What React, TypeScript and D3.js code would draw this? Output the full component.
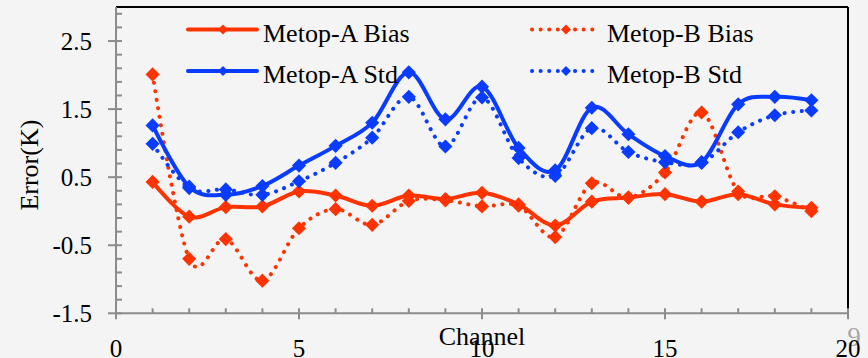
import React from "react";
import * as d3 from "d3";

const channels = [1, 2, 3, 4, 5, 6, 7, 8, 9, 10, 11, 12, 13, 14, 15, 16, 17, 18, 19];
const metopABias = [0.43, -0.08, 0.06, 0.07, 0.29, 0.23, 0.08, 0.23, 0.18, 0.27, 0.1, -0.21, 0.14, 0.2, 0.25, 0.14, 0.25, 0.1, 0.05];
const metopBBias = [2.01, -0.7, -0.41, -1.02, -0.25, 0.03, -0.2, 0.15, 0.16, 0.07, 0.08, -0.38, 0.41, 0.2, 0.57, 1.45, 0.29, 0.22, 0.0];
const metopAStd = [1.26, 0.36, 0.24, 0.37, 0.67, 0.96, 1.3, 2.04, 1.35, 1.83, 0.93, 0.6, 1.52, 1.13, 0.81, 0.72, 1.57, 1.68, 1.63];
const metopBStd = [0.99, 0.34, 0.32, 0.24, 0.44, 0.71, 1.08, 1.68, 0.95, 1.67, 0.78, 0.52, 1.22, 0.87, 0.72, 0.71, 1.16, 1.41, 1.48];

const yMajorTicks = [-1.5, -0.5, 0.5, 1.5, 2.5];
const xMajorTicks = [0, 5, 10, 15, 20];

const RED = "#ff3300";
const BLUE = "#0a3cff";
const FONT = "'Liberation Serif', 'Times New Roman', serif";

const W = 868;
const H = 358;

export default function App() {
  const x = d3.scaleLinear().domain([0, 20]).range([116, 848]);
  const y = d3.scaleLinear().domain([-1.5, 3]).range([313.3, 7]);

  const line = d3
    .line<[number, number]>()
    .x((d) => x(d[0]))
    .y((d) => y(d[1]))
    .curve(d3.curveCardinal.tension(0));

  const series = [
    { name: "Metop-A Bias", values: metopABias, color: RED, dotted: false, col: 0, row: 0 },
    { name: "Metop-B Bias", values: metopBBias, color: RED, dotted: true, col: 1, row: 0 },
    { name: "Metop-A Std", values: metopAStd, color: BLUE, dotted: false, col: 0, row: 1 },
    { name: "Metop-B Std", values: metopBStd, color: BLUE, dotted: true, col: 1, row: 1 },
  ];

  const diamond = d3.symbol(d3.symbolSquare, 100)() || "";
  const smallDiamond = d3.symbol(d3.symbolSquare, 50)() || "";

  const yMinor = d3.range(0, 23).map((k) => -1.5 + 0.2 * k).filter((v, i) => i % 5 !== 0 && v < 3);
  const xMinor = d3.range(1, 20).filter((v) => v % 5 !== 0);

  const axisColor = "#8c8c8c";
  const x0 = x(0);
  const yB = y(-1.5);

  const legendCols = [
    { lx1: 188, lx2: 257, mx: 223, tx: 263 },
    { lx1: 532, lx2: 599, mx: 566, tx: 607 },
  ];
  const legendRows = [{ ly: 29.5, ty: 41.5 }, { ly: 71, ty: 83 }];

  return (
    <svg
      width={W}
      height={H}
      style={{ position: "absolute", left: 0, top: 0, background: "#f4f4f4" }}
      fontFamily={FONT}
    >
      <rect x={0} y={0} width={W} height={H} fill="#f4f4f4" />

      {/* frame top/right */}
      <line x1={x0} x2={x(20)} y1={y(3)} y2={y(3)} stroke="#000" strokeWidth={2} />
      <line x1={x(20)} x2={x(20)} y1={y(3)} y2={yB} stroke="#000" strokeWidth={2} />

      {/* y axis */}
      <line x1={x0} x2={x0} y1={y(3)} y2={yB} stroke={axisColor} strokeWidth={2} />
      {yMinor.map((v, i) => (
        <line key={"ym" + i} x1={x0} x2={x0 + 6} y1={y(v)} y2={y(v)} stroke={axisColor} strokeWidth={2} />
      ))}
      {yMajorTicks.map((v) => (
        <g key={"yt" + v}>
          <line x1={x0 - 8} x2={x0 + 6} y1={y(v)} y2={y(v)} stroke={axisColor} strokeWidth={2} />
          <text x={92} y={y(v)} dy="0.34em" textAnchor="end" fontSize={25} fill="#000">
            {d3.format(".1f")(v).replace("−", "-")}
          </text>
        </g>
      ))}

      {/* x axis */}
      <line x1={x0} x2={x(20)} y1={yB} y2={yB} stroke={axisColor} strokeWidth={2} />
      {xMinor.map((v) => (
        <line key={"xm" + v} x1={x(v)} x2={x(v)} y1={yB - 5} y2={yB} stroke={axisColor} strokeWidth={2} />
      ))}
      {xMajorTicks.map((v) => (
        <g key={"xt" + v}>
          <line x1={x(v)} x2={x(v)} y1={yB - 5} y2={yB + 6} stroke={axisColor} strokeWidth={2} />
        </g>
      ))}
      <text x={854} y={346} textAnchor="middle" fontSize={27} fill="#a8a8a8">9</text>
      {xMajorTicks.map((v) => (
        <text key={"xl" + v} x={x(v)} y={357} textAnchor="middle" fontSize={25} fill="#000">
          {v}
        </text>
      ))}
      <text x={(x(0) + x(20)) / 2} y={345} textAnchor="middle" fontSize={26} fill="#000">
        Channel
      </text>
      <text
        transform={`translate(38, ${(y(3) + yB) / 2 + 5}) rotate(-90)`}
        textAnchor="middle"
        fontSize={26}
        fill="#000"
      >
        Error(K)
      </text>

      {/* series */}
      {series.map((s) => {
        const pts = channels.map((c, i) => [c, s.values[i]] as [number, number]);
        return (
          <g key={s.name}>
            <path
              d={line(pts) || ""}
              fill="none"
              stroke={s.color}
              strokeWidth={4}
              strokeDasharray={s.dotted ? "0.1 8.5" : undefined}
              strokeLinecap="round"
              strokeLinejoin="round"
            />
            {pts.map((p, i) => (
              <path
                key={i}
                d={diamond}
                transform={`translate(${x(p[0])},${y(p[1])}) rotate(45)`}
                fill={s.color}
              />
            ))}
          </g>
        );
      })}

      {/* legend */}
      {series.map((s) => {
        const c = legendCols[s.col];
        const r = legendRows[s.row];
        return (
          <g key={"lg" + s.name}>
            <line
              x1={c.lx1}
              x2={c.lx2}
              y1={r.ly}
              y2={r.ly}
              stroke={s.color}
              strokeWidth={4}
              strokeDasharray={s.dotted ? "0.1 8.5" : undefined}
              strokeLinecap="round"
            />
            <path d={smallDiamond} transform={`translate(${c.mx},${r.ly}) rotate(45)`} fill={s.color} />
            <text x={c.tx} y={r.ty} fontSize={26} fill="#000">
              {s.name}
            </text>
          </g>
        );
      })}
    </svg>
  );
}
